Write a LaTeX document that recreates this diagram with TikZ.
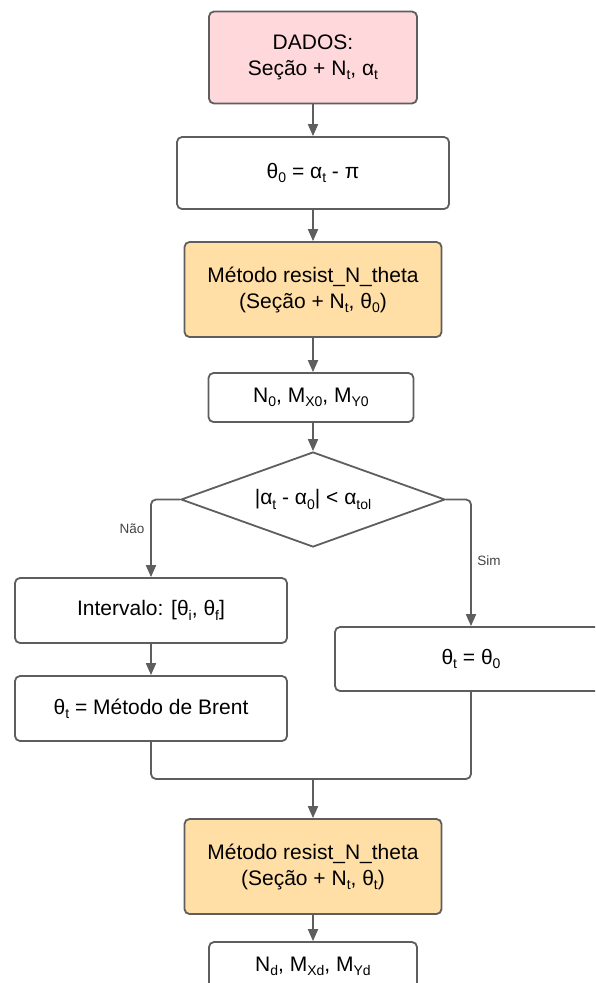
\documentclass[tikz,border=0pt]{standalone}
\usepackage{fontspec}
\setmainfont{Liberation Sans}
\usetikzlibrary{arrows.meta,shapes.geometric}

% lowered, smaller index text
\newcommand{\ix}[1]{\raisebox{-0.2em}{\fontsize{14}{15}\selectfont #1}}

\definecolor{edgegray}{HTML}{5E5E5E}
\definecolor{startpink}{HTML}{FFD8DB}
\definecolor{callorange}{HTML}{FFDFA6}
\definecolor{labelgray}{HTML}{444444}

\tikzset{
  box/.style={draw=edgegray, line width=1.8pt, rounded corners=5pt, fill=white,
    align=center, inner sep=0pt, font=\fontsize{21}{26}\selectfont},
  link/.style={draw=edgegray, line width=1.8pt, rounded corners=5pt,
    -{Triangle[length=12pt,width=10pt]}},
  joinline/.style={draw=edgegray, line width=1.8pt, rounded corners=5pt},
  branchlabel/.style={text=labelgray, font=\fontsize{13.5}{14}\selectfont, inner sep=0pt}
}

\begin{document}
\begin{tikzpicture}[x=1pt,y=-1pt]
\useasboundingbox (0,0) rectangle (595,983);
\clip (0,0) rectangle (595,983);

% process boxes
\node[box, fill=startpink, minimum width=208pt, minimum height=92pt] (dados) at (313,57.5)
  {DADOS:\\Seção + N\ix{t}, α\ix{t}};
\node[box, minimum width=272pt, minimum height=72pt] (theta0) at (313,173)
  {θ\ix{0} = α\ix{t} - π};
\node[box, fill=callorange, minimum width=257pt, minimum height=95pt] (metodoA) at (313,289.5)
  {Método resist\_N\_theta\\(Seção + N\ix{t}, θ\ix{0})};
\node[box, minimum width=205pt, minimum height=49pt] (res0) at (311,397.5)
  {N\ix{0}, M\ix{X0}, M\ix{Y0}};

% decision
\node[draw=edgegray, line width=1.8pt, fill=white, diamond, aspect=2.78,
  minimum width=264pt, minimum height=95pt, inner sep=0pt,
  font=\fontsize{21}{26}\selectfont] (teste) at (313,499.5)
  {|α\ix{t} - α\ix{0}| < α\ix{tol}};

% branches
\node[box, minimum width=272pt, minimum height=65pt] (intervalo) at (151,610.5)
  {Intervalo: [θ\ix{i}, θ\ix{f}]};
\node[box, minimum width=272pt, minimum height=65pt] (brent) at (151,708.5)
  {θ\ix{t} = Método de Brent};
\node[box, minimum width=272pt, minimum height=64pt] (igual) at (471,659)
  {θ\ix{t} = θ\ix{0}};

% final call and result
\node[box, fill=callorange, minimum width=257pt, minimum height=95pt] (metodoB) at (313,866.5)
  {Método resist\_N\_theta\\(Seção + N\ix{t}, θ\ix{t})};
\node[box, minimum width=208pt, minimum height=49pt] (resd) at (313,966.5)
  {N\ix{d}, M\ix{Xd}, M\ix{Yd}};

\coordinate (juncao) at (313,779);

% connectors
\draw[link] (dados.south) -- (theta0.north);
\draw[link] (theta0.south) -- (metodoA.north);
\draw[link] (metodoA.south) -- (metodoA.south |- res0.north);
\draw[link] (metodoA.south |- res0.south) -- (teste.north);
\draw[link] (teste.west) -| (intervalo.north);
\draw[link] (teste.east) -| (igual.north);
\draw[link] (intervalo.south) -- (brent.north);
\draw[joinline] (brent.south) |- (juncao);
\draw[joinline] (igual.south) |- (juncao);
\draw[link] (juncao) -- (metodoB.north);
\draw[link] (metodoB.south) -- (resd.north);

% branch labels
\node[branchlabel] (nao) at (132,529) {Não};
\node[branchlabel] (sim) at (489,561) {Sim};
\end{tikzpicture}
\end{document}
